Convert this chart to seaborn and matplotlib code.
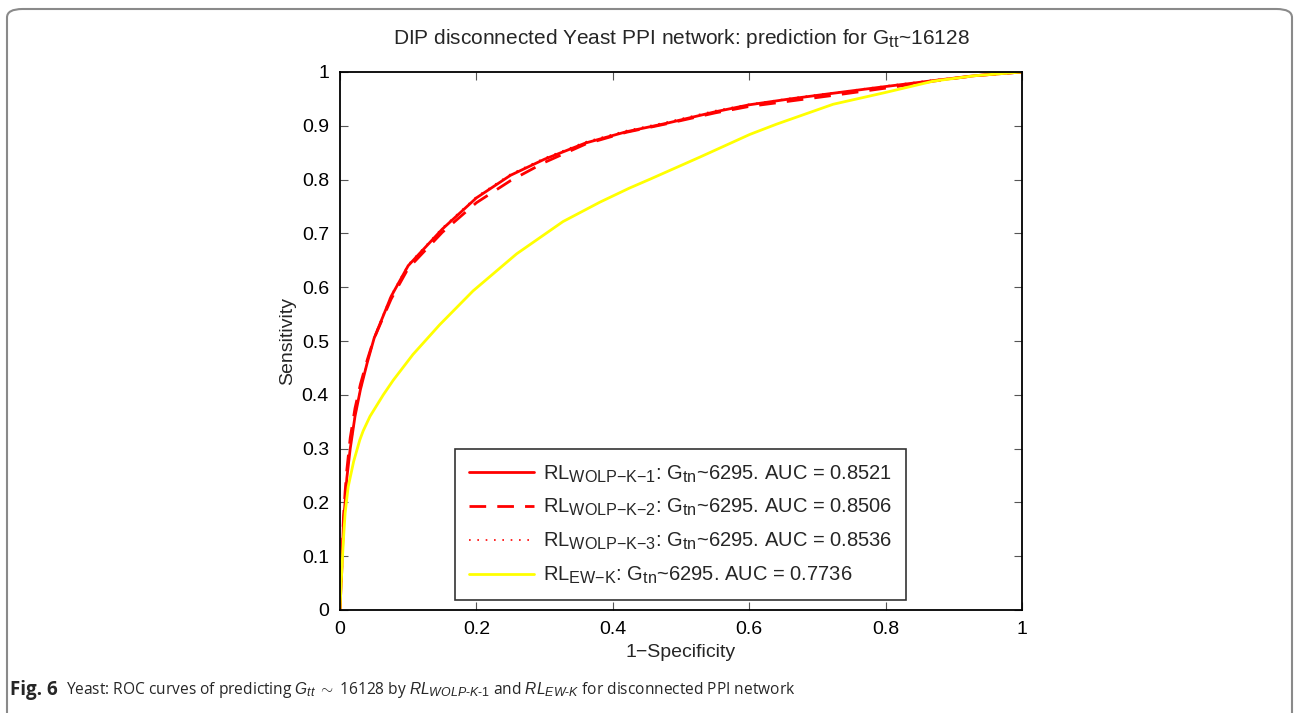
import numpy as np
import pandas as pd
import matplotlib
matplotlib.use("Agg")
import matplotlib.pyplot as plt
import matplotlib._mathtext as _mt
import seaborn as sns
from matplotlib.patches import FancyBboxPatch

_mt.SHRINK_FACTOR = 0.8

# ---------------- data ----------------
fpr_red = [0, 0.001, 0.0025, 0.005, 0.0075, 0.01, 0.015, 0.022, 0.03, 0.04, 0.05,
           0.075, 0.1, 0.15, 0.2, 0.25, 0.3, 0.36, 0.42, 0.48, 0.55, 0.6, 0.66,
           0.72, 0.8, 0.87, 0.93, 1.0]
tpr_k1 = [0, 0.03, 0.07, 0.16, 0.20, 0.245, 0.30, 0.36, 0.41, 0.46, 0.505,
          0.583, 0.64, 0.708, 0.766, 0.808, 0.838, 0.868, 0.889, 0.905, 0.926,
          0.939, 0.950, 0.960, 0.973, 0.984, 0.993, 1.0]
tpr_k2 = [0, 0.035, 0.08, 0.17, 0.22, 0.26, 0.32, 0.375, 0.42, 0.465, 0.505,
          0.578, 0.635, 0.702, 0.757, 0.798, 0.832, 0.866, 0.888, 0.904, 0.924,
          0.936, 0.946, 0.956, 0.970, 0.983, 0.993, 1.0]
tpr_k3 = [0, 0.03, 0.07, 0.16, 0.20, 0.245, 0.30, 0.36, 0.41, 0.462, 0.507,
          0.585, 0.642, 0.71, 0.768, 0.81, 0.84, 0.87, 0.891, 0.907, 0.928,
          0.94, 0.951, 0.961, 0.974, 0.985, 0.993, 1.0]
fpr_ew = [0, 0.001, 0.0025, 0.005, 0.0075, 0.012, 0.02, 0.029, 0.034, 0.044,
          0.0635, 0.078, 0.107, 0.146, 0.195, 0.259, 0.327, 0.381, 0.424, 0.455,
          0.528, 0.601, 0.64, 0.723, 0.8, 0.87, 0.93, 1.0]
tpr_ew = [0, 0.03, 0.07, 0.13, 0.18, 0.229, 0.276, 0.316, 0.333, 0.360, 0.400,
          0.427, 0.475, 0.530, 0.593, 0.662, 0.722, 0.758, 0.784, 0.801, 0.842,
          0.884, 0.903, 0.940, 0.962, 0.983, 0.993, 1.0]

M = "\u2212"
labels = [r"RL$_{\mathrm{WOLP}\text{" + M + r"}\mathrm{K}\text{" + M + r"}\mathrm{1}}$: G$_{\mathrm{tn}}$~6295. AUC = 0.8521",
          r"RL$_{\mathrm{WOLP}\text{" + M + r"}\mathrm{K}\text{" + M + r"}\mathrm{2}}$: G$_{\mathrm{tn}}$~6295. AUC = 0.8506",
          r"RL$_{\mathrm{WOLP}\text{" + M + r"}\mathrm{K}\text{" + M + r"}\mathrm{3}}$: G$_{\mathrm{tn}}$~6295. AUC = 0.8536",
          r"RL$_{\mathrm{EW}\text{" + M + r"}\mathrm{K}}$: G$_{\mathrm{tn}}$~6295. AUC = 0.7736"]
xticks = [0, 0.2, 0.4, 0.6, 0.8, 1]
xticklabels = ["0", "0.2", "0.4", "0.6", "0.8", "1"]
yticks = [0, 0.1, 0.2, 0.3, 0.4, 0.5, 0.6, 0.7, 0.8, 0.9, 1]
yticklabels = ["0", "0.1", "0.2", "0.3", "0.4", "0.5", "0.6", "0.7", "0.8", "0.9", "1"]

# ---------------- style ----------------
sns.set_theme(style="white")
plt.rcParams["font.family"] = ["Liberation Sans", "DejaVu Sans"]
plt.rcParams["mathtext.fontset"] = "custom"
plt.rcParams["mathtext.rm"] = "Liberation Sans"
plt.rcParams["mathtext.it"] = "Liberation Sans:italic"
plt.rcParams["mathtext.bf"] = "Liberation Sans:bold"

W, H = 1294, 713
fig = plt.figure(figsize=(W / 100, H / 100), dpi=100)
ax = fig.add_axes([340 / W, 1 - 610 / H, (1022 - 340) / W, (610 - 72) / H])

series = [
    (fpr_red, tpr_k1, "#ff0000", "-", 2.0, labels[0]),
    (fpr_red, tpr_k2, "#ff0000", (0, (6, 4)), 2.0, labels[1]),
    (fpr_red, tpr_k3, "#ff0000", (0, (1, 4)), 1.2, labels[2]),
    (fpr_ew, tpr_ew, "#ffff00", "-", 2.0, labels[3]),
]
for fx, ty, col, ls, lw, lab in series:
    df = pd.DataFrame({"fpr": fx, "tpr": ty})
    sns.lineplot(data=df, x="fpr", y="tpr", ax=ax, color=col, linestyle=ls,
                 linewidth=lw, label=lab, estimator=None, sort=False)

ax.set_xlim(0, 1)
ax.set_ylim(0, 1)
ax.set_xticks(xticks)
ax.set_xticklabels(xticklabels)
ax.set_yticks(yticks)
ax.set_yticklabels(yticklabels)
ax.tick_params(direction="in", length=6, width=0.8, colors="#555555",
               labelcolor="black", labelsize=14, top=True, right=True,
               bottom=True, left=True, pad=8)
for sp in ax.spines.values():
    sp.set_color("black")
    sp.set_linewidth(1.3)
    sp.set_visible(True)

ax.set_xlabel("1\u2212Specificity", fontsize=14, labelpad=4)
ax.set_ylabel("Sensitivity", fontsize=14, labelpad=4)
ax.set_title(r"DIP disconnected Yeast PPI network: prediction for G$_{\mathrm{tt}}$~16128",
             fontsize=15, pad=20)

leg = ax.legend(loc="lower right", bbox_to_anchor=(566 / 682, 10 / 538),
                fontsize=14.5, frameon=True, fancybox=False, handlelength=3.2,
                borderpad=0.7, labelspacing=0.62, handletextpad=0.45,
                borderaxespad=0)
leg.get_frame().set_edgecolor("black")
leg.get_frame().set_linewidth(1.2)

# outer rounded border
box = FancyBboxPatch((7 / W, -0.05), (1292 - 7) / W, (H - 9) / H + 0.05,
                     boxstyle="round,pad=0,rounding_size=0.012",
                     transform=fig.transFigure, fill=False,
                     edgecolor="#8a8a8a", linewidth=1.5, clip_on=False)
fig.patches.append(box)

# caption
cap_y = 1 - 690 / H
fig.text(10 / W, cap_y, "Fig. 6", fontsize=13.5, fontweight="bold",
         family=["Open Sans", "DejaVu Sans"], va="center", ha="left")
fig.text(66 / W, cap_y,
         r"Yeast: ROC curves of predicting $G_{tt}$ $\sim$ 16128 by $RL_{WOLP\text{-}K\text{-}1}$ and $RL_{EW\text{-}K}$ for disconnected PPI network",
         fontsize=11.2, family=["Open Sans", "DejaVu Sans"], va="center", ha="left")

fig.savefig("out.png", dpi=100)
